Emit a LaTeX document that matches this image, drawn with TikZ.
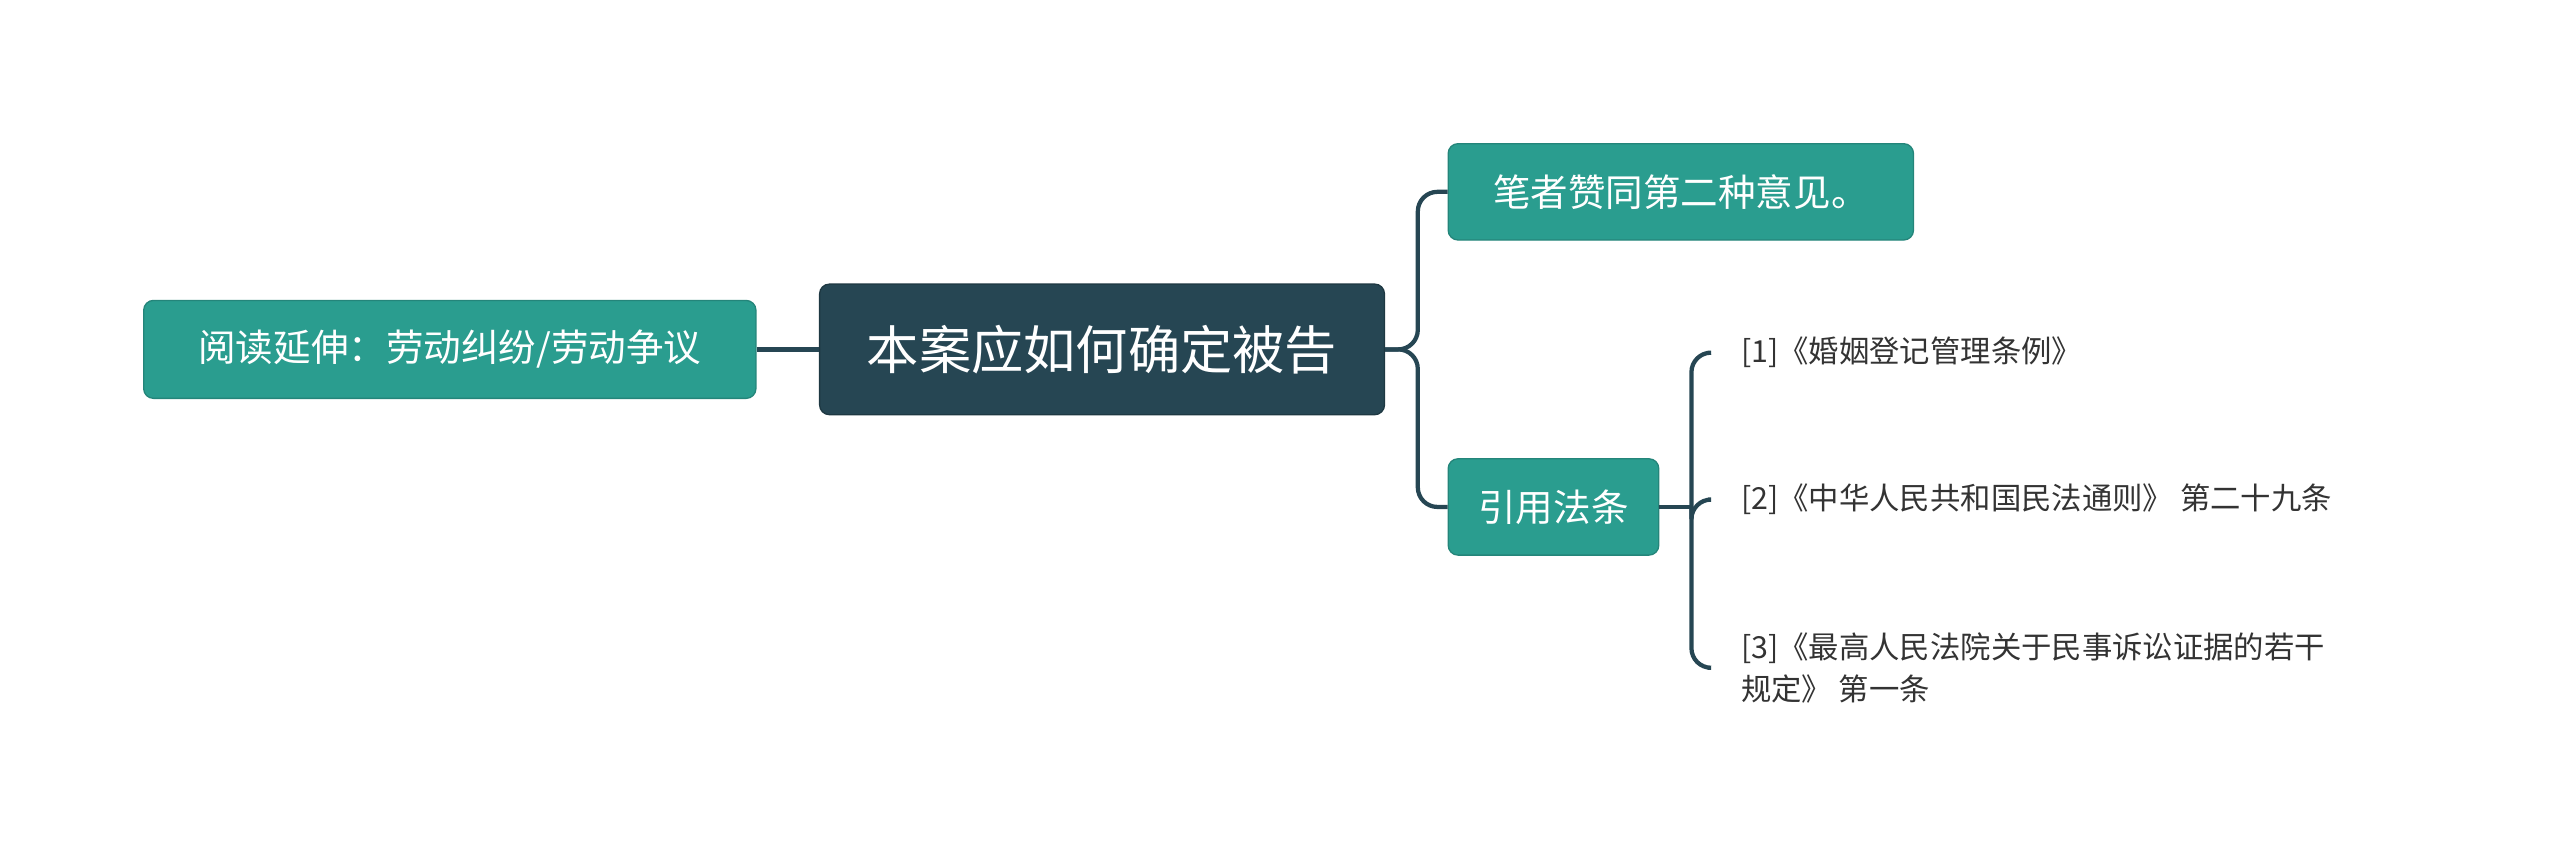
\documentclass[tikz,border=0pt]{standalone}
\usepackage{fontspec}
\setmainfont{Noto Sans CJK SC}
\begin{document}
\begin{tikzpicture}[x=0.5pt,y=-0.5pt,
  teal/.style={fill=tealc,draw=tealc!85!black,rounded corners=3pt,text=white,inner sep=0pt,font=\fontsize{11.5pt}{14pt}\selectfont},
  rootbox/.style={fill=rootc,draw=rootc!80!black,rounded corners=3pt,text=white,inner sep=0pt,font=\fontsize{16pt}{19pt}\selectfont},
  leaf/.style={anchor=west,text=leafc,inner sep=0pt,align=left,font=\fontsize{9.3pt}{13pt}\selectfont},
  conn/.style={draw=rootc,line width=1.3pt,rounded corners=6pt}]
\definecolor{tealc}{HTML}{2A9D8F}
\definecolor{rootc}{HTML}{264653}
\definecolor{leafc}{HTML}{333333}
\useasboundingbox (0,0) rectangle (1568,530);
\node[rootbox,minimum width=173pt,minimum height=40pt] (root) at (675,214) {本案应如何确定被告};
\node[teal,minimum width=187.5pt,minimum height=30pt] (left) at (275.5,214) {阅读延伸：劳动纠纷/劳动争议};
\node[teal,minimum width=142.5pt,minimum height=29.5pt] (r1) at (1029.5,117.5) {笔者赞同第二种意见。};
\node[teal,minimum width=64.5pt,minimum height=29.5pt] (r2) at (951.5,310.5) {引用法条};
\node[leaf] (l1) at (1066,216) {[1]《婚姻登记管理条例》};
\node[leaf] (l2) at (1066,306) {[2]《中华人民共和国民法通则》 第二十九条};
\node[leaf] (l3) at (1066,409) {[3]《最高人民法院关于民事诉讼证据的若干\\规定》 第一条};
\draw[conn] (left.east) -- (root.west);
\draw[conn] (root.east) -- ++(20,0) |- (r1.west);
\draw[conn] (root.east) -- ++(20,0) |- (r2.west);
\coordinate (b) at (1036,310.5);
\draw[conn] (r2.east) -- (b);
\draw[conn] (b) |- ([xshift=-10pt]l1.west);
\draw[conn] (b) |- ([xshift=-10pt]l2.west);
\draw[conn] (b) |- ([xshift=-10pt]l3.west);
\end{tikzpicture}
\end{document}
